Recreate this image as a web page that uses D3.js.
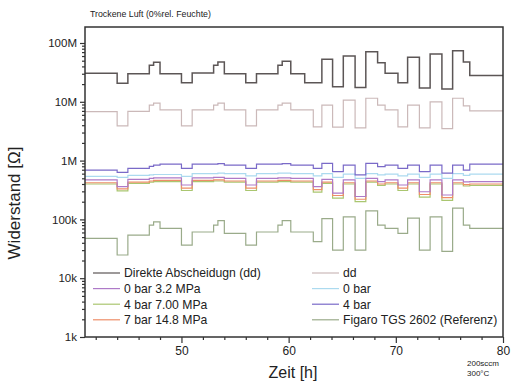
<!DOCTYPE html>
<html>
<head>
<meta charset="utf-8">
<script src="https://cdn.jsdelivr.net/npm/d3@7"></script>
<style>
  body { margin: 0; background: #fff; }
  text { font-family: "Liberation Sans", Arial, sans-serif; fill: #222; }
</style>
</head>
<body>
<div id="chart"></div>
<script>
// segment start times [h], each series holds one value per segment (step curve)
const segStart = [41, 44, 45, 47, 47.4, 48, 50, 51, 53, 53.4, 54, 56, 57, 59, 59.4, 60.2, 61.5, 62.3,
  63.1, 64.1, 65.1, 66.2, 67.2, 68.3, 69, 70.2, 71.1, 72.2, 73.2, 74.3, 75.3, 76.3, 76.9];
const tEnd = 80;

const direkt = [3.05e7, 2.07e7, 3.0e7, 4.2e7, 4.7e7, 3.0e7, 2.1e7, 3.1e7, 4.2e7, 4.75e7, 3.0e7, 2.1e7, 3.0e7,
  4.2e7, 4.9e7, 3.0e7, 2.1e7, 2.1e7, 5.3e7, 1.8e7, 6.0e7, 1.75e7, 7.1e7, 4.6e7, 3.05e7, 2.1e7, 5.7e7, 1.72e7,
  6.5e7, 1.65e7, 7.4e7, 4.75e7, 2.8e7];
const dd = [6.8e6, 3.9e6, 6.9e6, 8.8e6, 9.5e6, 7.3e6, 3.9e6, 7.3e6, 8.8e6, 9.5e6, 7.3e6, 3.9e6, 7.3e6,
  8.8e6, 9.5e6, 7.3e6, 7.3e6, 3.75e6, 8.8e6, 3.7e6, 1.07e7, 3.6e6, 1.15e7, 8.8e6, 7.3e6, 3.75e6, 8.8e6, 3.6e6,
  1.0e7, 3.5e6, 1.15e7, 8.5e6, 7.0e6];
const bar4 = [6.9e5, 6.3e5, 7.4e5, 8.0e5, 8.4e5, 8.7e5, 7.4e5, 8.7e5, 8.7e5, 8.9e5, 8.4e5, 7.4e5, 8.7e5,
  8.7e5, 8.9e5, 8.4e5, 8.4e5, 7.4e5, 9.0e5, 6.5e5, 8.4e5, 5.7e5, 9.0e5, 7.9e5, 8.4e5, 7.4e5, 8.4e5, 6.5e5,
  8.4e5, 6.1e5, 8.4e5, 6.9e5, 8.7e5];
const bar0 = [5.4e5, 5.2e5, 5.6e5, 5.7e5, 5.8e5, 5.8e5, 5.4e5, 6.0e5, 6.0e5, 6.1e5, 6.0e5, 5.5e5, 6.0e5,
  6.1e5, 6.1e5, 6.0e5, 6.0e5, 5.5e5, 6.0e5, 5.2e5, 5.9e5, 5.0e5, 6.0e5, 5.7e5, 5.9e5, 5.5e5, 5.9e5, 5.2e5,
  5.9e5, 5.0e5, 6.0e5, 5.6e5, 5.9e5];
const bar0mpa = [4.7e5, 3.6e5, 4.8e5, 5.0e5, 5.1e5, 5.1e5, 3.85e5, 5.1e5, 5.2e5, 5.2e5, 5.0e5, 3.85e5, 5.0e5,
  5.1e5, 5.1e5, 5.0e5, 5.0e5, 3.6e5, 4.8e5, 2.8e5, 4.7e5, 2.45e5, 5.0e5, 4.4e5, 4.7e5, 3.85e5, 4.7e5, 2.95e5,
  4.7e5, 2.6e5, 4.7e5, 4.35e5, 4.4e5];
const bar7mpa = [4.2e5, 3.3e5, 4.3e5, 4.5e5, 4.6e5, 4.6e5, 3.4e5, 4.6e5, 4.7e5, 4.7e5, 4.5e5, 3.4e5, 4.5e5,
  4.6e5, 4.6e5, 4.5e5, 4.5e5, 3.2e5, 4.3e5, 2.55e5, 4.2e5, 2.2e5, 4.5e5, 4.0e5, 4.2e5, 3.4e5, 4.2e5, 2.65e5,
  4.2e5, 2.35e5, 4.2e5, 3.9e5, 4.0e5];
const bar4mpa = [4.0e5, 3.05e5, 4.1e5, 4.3e5, 4.4e5, 4.4e5, 3.1e5, 4.4e5, 4.5e5, 4.5e5, 4.3e5, 3.1e5, 4.3e5,
  4.4e5, 4.4e5, 4.3e5, 4.3e5, 2.9e5, 4.1e5, 2.3e5, 4.0e5, 2.0e5, 4.3e5, 3.8e5, 4.0e5, 3.1e5, 4.0e5, 2.4e5,
  4.0e5, 2.1e5, 4.0e5, 3.7e5, 3.8e5];
const figaro = [4.77e4, 2.48e4, 5.4e4, 8.0e4, 9.1e4, 7.06e4, 3.65e4, 6.1e4, 8.0e4, 9.5e4, 5.8e4, 3.65e4, 6.1e4,
  8.0e4, 9.5e4, 6.1e4, 6.1e4, 4.2e4, 1.03e5, 3.0e4, 1.1e5, 3.0e4, 1.4e5, 8.0e4, 7.06e4, 5.8e4, 1.05e5, 3.0e4,
  1.1e5, 2.85e4, 1.55e5, 8.0e4, 7.06e4];

const seriesNames = ["Direkte Abscheidugn (dd)", "0 bar 3.2 MPa", "4 bar 7.00 MPa", "7 bar 14.8 MPa",
  "dd", "0 bar", "4 bar", "Figaro TGS 2602 (Referenz)"];
const seriesValues = [direkt, bar0mpa, bar4mpa, bar7mpa, dd, bar0, bar4, figaro];
const seriesColors = ["#5c5656", "#ae7ac8", "#aac670", "#ee8e68", "#cbb9b9", "#acdaef", "#7a6ac8", "#9aab8a"];
const drawOrder = [5, 4, 7, 2, 3, 1, 6, 0];

const yTickValues = [1e3, 1e4, 1e5, 1e6, 1e7, 1e8];
const yTickLabels = ["1k", "10k", "100k", "1M", "10M", "100M"];
const xTickValues = [50, 60, 70, 80];

const W = 511, H = 382;
const plot = { left: 85, right: 503, top: 27, bottom: 337 };

const svg = d3.select("#chart").append("svg").attr("width", W).attr("height", H);

const x = d3.scaleLinear().domain([41, 80]).range([plot.left, plot.right]);
const y = d3.scaleLog().domain([1e3, 1e8]).range([337, 43]);

svg.append("defs").append("clipPath").attr("id", "clip")
  .append("rect").attr("x", plot.left).attr("y", plot.top)
  .attr("width", plot.right - plot.left).attr("height", plot.bottom - plot.top);

// axes
const yMinor = [];
for (let e = 3; e < 8; e++) for (let k = 2; k <= 9; k++) yMinor.push(k * Math.pow(10, e));
const xMinor = d3.range(42, 80, 2).filter(v => !xTickValues.includes(v));

svg.append("g").attr("transform", `translate(${plot.left},0)`)
  .call(d3.axisLeft(y).tickValues(yMinor).tickSize(3).tickFormat(""))
  .call(g => g.select(".domain").remove());
svg.append("g").attr("transform", `translate(${plot.left},0)`)
  .call(d3.axisLeft(y).tickValues(yTickValues).tickSize(5).tickPadding(3).tickFormat((d, i) => yTickLabels[i]))
  .call(g => g.select(".domain").remove())
  .call(g => g.selectAll("text").style("font-size", "11.5px"));

svg.append("g").attr("transform", `translate(0,${plot.bottom})`)
  .call(d3.axisBottom(x).tickValues(xMinor).tickSize(3).tickFormat(""))
  .call(g => g.select(".domain").remove());
svg.append("g").attr("transform", `translate(0,${plot.bottom})`)
  .call(d3.axisBottom(x).tickValues(xTickValues).tickSize(6).tickPadding(3).tickFormat(d3.format("d")))
  .call(g => g.select(".domain").remove())
  .call(g => g.selectAll("text").style("font-size", "12px"));

svg.selectAll(".tick line").attr("stroke", "#333").attr("stroke-width", 1.2);

// series
const line = d3.line().x(d => x(d[0])).y(d => y(d[1])).curve(d3.curveStepAfter);
const lines = svg.append("g").attr("clip-path", "url(#clip)");
drawOrder.forEach(i => {
  const vals = seriesValues[i];
  const pts = segStart.map((t, j) => [t, vals[j]]);
  pts.push([tEnd, vals[vals.length - 1]]);
  lines.append("path").datum(pts)
    .attr("fill", "none")
    .attr("stroke", seriesColors[i])
    .attr("stroke-width", i === 0 ? 1.5 : 1.2)
    .attr("d", line);
});

// frame
svg.append("rect").attr("x", plot.left).attr("y", plot.top)
  .attr("width", plot.right - plot.left).attr("height", plot.bottom - plot.top)
  .attr("fill", "none").attr("stroke", "#333").attr("stroke-width", 1.5);

// legend
const legend = svg.append("g").style("font-size", "12.2px");
seriesNames.forEach((name, i) => {
  const col = i < 4 ? 0 : 1;
  const row = i % 4;
  const lx = col === 0 ? 93 : 312;
  const ly = 273 + row * 15.6;
  legend.append("line").attr("x1", lx).attr("x2", lx + 27).attr("y1", ly).attr("y2", ly)
    .attr("stroke", seriesColors[i]).attr("stroke-width", 1.2);
  legend.append("text").attr("x", lx + 31).attr("y", ly + 4.3).text(name);
});

// titles
svg.append("text").attr("x", 90).attr("y", 17).style("font-size", "8.8px")
  .text("Trockene Luft (0%rel. Feuchte)");
svg.append("text").attr("transform", `translate(20,203) rotate(-90)`)
  .attr("text-anchor", "middle").style("font-size", "17px").text("Widerstand [\u03A9]");
svg.append("text").attr("x", 293).attr("y", 378).attr("text-anchor", "middle")
  .style("font-size", "16px").text("Zeit [h]");
svg.append("text").attr("x", 467).attr("y", 366).style("font-size", "8px").text("200sccm");
svg.append("text").attr("x", 467).attr("y", 376).style("font-size", "8px").text("300°C");
</script>
</body>
</html>
